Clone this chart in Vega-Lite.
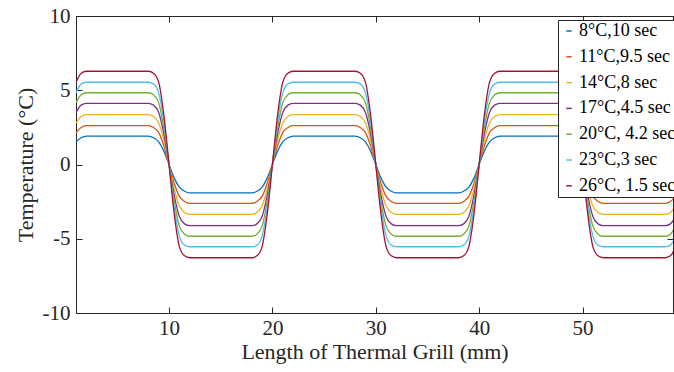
{
  "$schema": "https://vega.github.io/schema/vega-lite/v6.json",
  "width": 597,
  "height": 297,
  "autosize": {"type": "none"},
  "padding": {"left": 76, "top": 16, "right": 1, "bottom": 59},
  "background": "white",
  "data": {"values": [
{"x":1,"k":8,"y":1.53},{"x":1.5,"k":8,"y":1.80},{"x":2,"k":8,"y":1.91},{"x":8,"k":8,"y":1.91},{"x":8.5,"k":8,"y":1.80},{"x":9,"k":8,"y":1.53},{"x":9.5,"k":8,"y":0.90},{"x":10,"k":8,"y":0},{"x":10.5,"k":8,"y":-0.90},{"x":11,"k":8,"y":-1.53},{"x":11.5,"k":8,"y":-1.80},{"x":12,"k":8,"y":-1.91},
{"x":18,"k":8,"y":-1.91},{"x":18.5,"k":8,"y":-1.80},{"x":19,"k":8,"y":-1.53},{"x":19.5,"k":8,"y":-0.90},{"x":20,"k":8,"y":0},{"x":20.5,"k":8,"y":0.90},{"x":21,"k":8,"y":1.53},{"x":21.5,"k":8,"y":1.80},{"x":22,"k":8,"y":1.91},
{"x":28,"k":8,"y":1.91},{"x":28.5,"k":8,"y":1.80},{"x":29,"k":8,"y":1.53},{"x":29.5,"k":8,"y":0.90},{"x":30,"k":8,"y":0},{"x":30.5,"k":8,"y":-0.90},{"x":31,"k":8,"y":-1.53},{"x":31.5,"k":8,"y":-1.80},{"x":32,"k":8,"y":-1.91},
{"x":38,"k":8,"y":-1.91},{"x":38.5,"k":8,"y":-1.80},{"x":39,"k":8,"y":-1.53},{"x":39.5,"k":8,"y":-0.90},{"x":40,"k":8,"y":0},{"x":40.5,"k":8,"y":0.90},{"x":41,"k":8,"y":1.53},{"x":41.5,"k":8,"y":1.80},{"x":42,"k":8,"y":1.91},
{"x":48,"k":8,"y":1.91},{"x":48.5,"k":8,"y":1.80},{"x":49,"k":8,"y":1.53},{"x":49.5,"k":8,"y":0.90},{"x":50,"k":8,"y":0},{"x":50.5,"k":8,"y":-0.90},{"x":51,"k":8,"y":-1.53},{"x":51.5,"k":8,"y":-1.80},{"x":52,"k":8,"y":-1.91},
{"x":58,"k":8,"y":-1.91},{"x":58.5,"k":8,"y":-1.80},{"x":59,"k":8,"y":-1.53},

{"x":1,"k":11,"y":2.15},{"x":1.5,"k":11,"y":2.49},{"x":2,"k":11,"y":2.62},{"x":8,"k":11,"y":2.62},{"x":8.5,"k":11,"y":2.49},{"x":9,"k":11,"y":2.15},{"x":9.5,"k":11,"y":1.26},{"x":10,"k":11,"y":0},{"x":10.5,"k":11,"y":-1.26},{"x":11,"k":11,"y":-2.15},{"x":11.5,"k":11,"y":-2.49},{"x":12,"k":11,"y":-2.62},
{"x":18,"k":11,"y":-2.62},{"x":18.5,"k":11,"y":-2.49},{"x":19,"k":11,"y":-2.15},{"x":19.5,"k":11,"y":-1.26},{"x":20,"k":11,"y":0},{"x":20.5,"k":11,"y":1.26},{"x":21,"k":11,"y":2.15},{"x":21.5,"k":11,"y":2.49},{"x":22,"k":11,"y":2.62},
{"x":28,"k":11,"y":2.62},{"x":28.5,"k":11,"y":2.49},{"x":29,"k":11,"y":2.15},{"x":29.5,"k":11,"y":1.26},{"x":30,"k":11,"y":0},{"x":30.5,"k":11,"y":-1.26},{"x":31,"k":11,"y":-2.15},{"x":31.5,"k":11,"y":-2.49},{"x":32,"k":11,"y":-2.62},
{"x":38,"k":11,"y":-2.62},{"x":38.5,"k":11,"y":-2.49},{"x":39,"k":11,"y":-2.15},{"x":39.5,"k":11,"y":-1.26},{"x":40,"k":11,"y":0},{"x":40.5,"k":11,"y":1.26},{"x":41,"k":11,"y":2.15},{"x":41.5,"k":11,"y":2.49},{"x":42,"k":11,"y":2.62},
{"x":48,"k":11,"y":2.62},{"x":48.5,"k":11,"y":2.49},{"x":49,"k":11,"y":2.15},{"x":49.5,"k":11,"y":1.26},{"x":50,"k":11,"y":0},{"x":50.5,"k":11,"y":-1.26},{"x":51,"k":11,"y":-2.15},{"x":51.5,"k":11,"y":-2.49},{"x":52,"k":11,"y":-2.62},
{"x":58,"k":11,"y":-2.62},{"x":58.5,"k":11,"y":-2.49},{"x":59,"k":11,"y":-2.15},

{"x":1,"k":14,"y":2.79},{"x":1.5,"k":14,"y":3.23},{"x":2,"k":14,"y":3.36},{"x":8,"k":14,"y":3.36},{"x":8.5,"k":14,"y":3.23},{"x":9,"k":14,"y":2.79},{"x":9.5,"k":14,"y":1.65},{"x":10,"k":14,"y":0},{"x":10.5,"k":14,"y":-1.65},{"x":11,"k":14,"y":-2.79},{"x":11.5,"k":14,"y":-3.23},{"x":12,"k":14,"y":-3.36},
{"x":18,"k":14,"y":-3.36},{"x":18.5,"k":14,"y":-3.23},{"x":19,"k":14,"y":-2.79},{"x":19.5,"k":14,"y":-1.65},{"x":20,"k":14,"y":0},{"x":20.5,"k":14,"y":1.65},{"x":21,"k":14,"y":2.79},{"x":21.5,"k":14,"y":3.23},{"x":22,"k":14,"y":3.36},
{"x":28,"k":14,"y":3.36},{"x":28.5,"k":14,"y":3.23},{"x":29,"k":14,"y":2.79},{"x":29.5,"k":14,"y":1.65},{"x":30,"k":14,"y":0},{"x":30.5,"k":14,"y":-1.65},{"x":31,"k":14,"y":-2.79},{"x":31.5,"k":14,"y":-3.23},{"x":32,"k":14,"y":-3.36},
{"x":38,"k":14,"y":-3.36},{"x":38.5,"k":14,"y":-3.23},{"x":39,"k":14,"y":-2.79},{"x":39.5,"k":14,"y":-1.65},{"x":40,"k":14,"y":0},{"x":40.5,"k":14,"y":1.65},{"x":41,"k":14,"y":2.79},{"x":41.5,"k":14,"y":3.23},{"x":42,"k":14,"y":3.36},
{"x":48,"k":14,"y":3.36},{"x":48.5,"k":14,"y":3.23},{"x":49,"k":14,"y":2.79},{"x":49.5,"k":14,"y":1.65},{"x":50,"k":14,"y":0},{"x":50.5,"k":14,"y":-1.65},{"x":51,"k":14,"y":-2.79},{"x":51.5,"k":14,"y":-3.23},{"x":52,"k":14,"y":-3.36},
{"x":58,"k":14,"y":-3.36},{"x":58.5,"k":14,"y":-3.23},{"x":59,"k":14,"y":-2.79},

{"x":1,"k":17,"y":3.50},{"x":1.5,"k":17,"y":4.00},{"x":2,"k":17,"y":4.12},{"x":8,"k":17,"y":4.12},{"x":8.5,"k":17,"y":4.00},{"x":9,"k":17,"y":3.50},{"x":9.5,"k":17,"y":2.06},{"x":10,"k":17,"y":0},{"x":10.5,"k":17,"y":-2.06},{"x":11,"k":17,"y":-3.50},{"x":11.5,"k":17,"y":-4.00},{"x":12,"k":17,"y":-4.12},
{"x":18,"k":17,"y":-4.12},{"x":18.5,"k":17,"y":-4.00},{"x":19,"k":17,"y":-3.50},{"x":19.5,"k":17,"y":-2.06},{"x":20,"k":17,"y":0},{"x":20.5,"k":17,"y":2.06},{"x":21,"k":17,"y":3.50},{"x":21.5,"k":17,"y":4.00},{"x":22,"k":17,"y":4.12},
{"x":28,"k":17,"y":4.12},{"x":28.5,"k":17,"y":4.00},{"x":29,"k":17,"y":3.50},{"x":29.5,"k":17,"y":2.06},{"x":30,"k":17,"y":0},{"x":30.5,"k":17,"y":-2.06},{"x":31,"k":17,"y":-3.50},{"x":31.5,"k":17,"y":-4.00},{"x":32,"k":17,"y":-4.12},
{"x":38,"k":17,"y":-4.12},{"x":38.5,"k":17,"y":-4.00},{"x":39,"k":17,"y":-3.50},{"x":39.5,"k":17,"y":-2.06},{"x":40,"k":17,"y":0},{"x":40.5,"k":17,"y":2.06},{"x":41,"k":17,"y":3.50},{"x":41.5,"k":17,"y":4.00},{"x":42,"k":17,"y":4.12},
{"x":48,"k":17,"y":4.12},{"x":48.5,"k":17,"y":4.00},{"x":49,"k":17,"y":3.50},{"x":49.5,"k":17,"y":2.06},{"x":50,"k":17,"y":0},{"x":50.5,"k":17,"y":-2.06},{"x":51,"k":17,"y":-3.50},{"x":51.5,"k":17,"y":-4.00},{"x":52,"k":17,"y":-4.12},
{"x":58,"k":17,"y":-4.12},{"x":58.5,"k":17,"y":-4.00},{"x":59,"k":17,"y":-3.50},

{"x":1,"k":20,"y":4.15},{"x":1.5,"k":20,"y":4.69},{"x":2,"k":20,"y":4.83},{"x":8,"k":20,"y":4.83},{"x":8.5,"k":20,"y":4.69},{"x":9,"k":20,"y":4.15},{"x":9.5,"k":20,"y":2.46},{"x":10,"k":20,"y":0},{"x":10.5,"k":20,"y":-2.46},{"x":11,"k":20,"y":-4.15},{"x":11.5,"k":20,"y":-4.69},{"x":12,"k":20,"y":-4.83},
{"x":18,"k":20,"y":-4.83},{"x":18.5,"k":20,"y":-4.69},{"x":19,"k":20,"y":-4.15},{"x":19.5,"k":20,"y":-2.46},{"x":20,"k":20,"y":0},{"x":20.5,"k":20,"y":2.46},{"x":21,"k":20,"y":4.15},{"x":21.5,"k":20,"y":4.69},{"x":22,"k":20,"y":4.83},
{"x":28,"k":20,"y":4.83},{"x":28.5,"k":20,"y":4.69},{"x":29,"k":20,"y":4.15},{"x":29.5,"k":20,"y":2.46},{"x":30,"k":20,"y":0},{"x":30.5,"k":20,"y":-2.46},{"x":31,"k":20,"y":-4.15},{"x":31.5,"k":20,"y":-4.69},{"x":32,"k":20,"y":-4.83},
{"x":38,"k":20,"y":-4.83},{"x":38.5,"k":20,"y":-4.69},{"x":39,"k":20,"y":-4.15},{"x":39.5,"k":20,"y":-2.46},{"x":40,"k":20,"y":0},{"x":40.5,"k":20,"y":2.46},{"x":41,"k":20,"y":4.15},{"x":41.5,"k":20,"y":4.69},{"x":42,"k":20,"y":4.83},
{"x":48,"k":20,"y":4.83},{"x":48.5,"k":20,"y":4.69},{"x":49,"k":20,"y":4.15},{"x":49.5,"k":20,"y":2.46},{"x":50,"k":20,"y":0},{"x":50.5,"k":20,"y":-2.46},{"x":51,"k":20,"y":-4.15},{"x":51.5,"k":20,"y":-4.69},{"x":52,"k":20,"y":-4.83},
{"x":58,"k":20,"y":-4.83},{"x":58.5,"k":20,"y":-4.69},{"x":59,"k":20,"y":-4.15},

{"x":1,"k":23,"y":4.82},{"x":1.5,"k":23,"y":5.43},{"x":2,"k":23,"y":5.54},{"x":8,"k":23,"y":5.54},{"x":8.5,"k":23,"y":5.43},{"x":9,"k":23,"y":4.82},{"x":9.5,"k":23,"y":2.88},{"x":10,"k":23,"y":0},{"x":10.5,"k":23,"y":-2.88},{"x":11,"k":23,"y":-4.82},{"x":11.5,"k":23,"y":-5.43},{"x":12,"k":23,"y":-5.54},
{"x":18,"k":23,"y":-5.54},{"x":18.5,"k":23,"y":-5.43},{"x":19,"k":23,"y":-4.82},{"x":19.5,"k":23,"y":-2.88},{"x":20,"k":23,"y":0},{"x":20.5,"k":23,"y":2.88},{"x":21,"k":23,"y":4.82},{"x":21.5,"k":23,"y":5.43},{"x":22,"k":23,"y":5.54},
{"x":28,"k":23,"y":5.54},{"x":28.5,"k":23,"y":5.43},{"x":29,"k":23,"y":4.82},{"x":29.5,"k":23,"y":2.88},{"x":30,"k":23,"y":0},{"x":30.5,"k":23,"y":-2.88},{"x":31,"k":23,"y":-4.82},{"x":31.5,"k":23,"y":-5.43},{"x":32,"k":23,"y":-5.54},
{"x":38,"k":23,"y":-5.54},{"x":38.5,"k":23,"y":-5.43},{"x":39,"k":23,"y":-4.82},{"x":39.5,"k":23,"y":-2.88},{"x":40,"k":23,"y":0},{"x":40.5,"k":23,"y":2.88},{"x":41,"k":23,"y":4.82},{"x":41.5,"k":23,"y":5.43},{"x":42,"k":23,"y":5.54},
{"x":48,"k":23,"y":5.54},{"x":48.5,"k":23,"y":5.43},{"x":49,"k":23,"y":4.82},{"x":49.5,"k":23,"y":2.88},{"x":50,"k":23,"y":0},{"x":50.5,"k":23,"y":-2.88},{"x":51,"k":23,"y":-4.82},{"x":51.5,"k":23,"y":-5.43},{"x":52,"k":23,"y":-5.54},
{"x":58,"k":23,"y":-5.54},{"x":58.5,"k":23,"y":-5.43},{"x":59,"k":23,"y":-4.82},

{"x":1,"k":26,"y":5.53},{"x":1.5,"k":26,"y":6.15},{"x":2,"k":26,"y":6.28},{"x":8,"k":26,"y":6.28},{"x":8.5,"k":26,"y":6.15},{"x":9,"k":26,"y":5.53},{"x":9.5,"k":26,"y":3.33},{"x":10,"k":26,"y":0},{"x":10.5,"k":26,"y":-3.33},{"x":11,"k":26,"y":-5.53},{"x":11.5,"k":26,"y":-6.15},{"x":12,"k":26,"y":-6.28},
{"x":18,"k":26,"y":-6.28},{"x":18.5,"k":26,"y":-6.15},{"x":19,"k":26,"y":-5.53},{"x":19.5,"k":26,"y":-3.33},{"x":20,"k":26,"y":0},{"x":20.5,"k":26,"y":3.33},{"x":21,"k":26,"y":5.53},{"x":21.5,"k":26,"y":6.15},{"x":22,"k":26,"y":6.28},
{"x":28,"k":26,"y":6.28},{"x":28.5,"k":26,"y":6.15},{"x":29,"k":26,"y":5.53},{"x":29.5,"k":26,"y":3.33},{"x":30,"k":26,"y":0},{"x":30.5,"k":26,"y":-3.33},{"x":31,"k":26,"y":-5.53},{"x":31.5,"k":26,"y":-6.15},{"x":32,"k":26,"y":-6.28},
{"x":38,"k":26,"y":-6.28},{"x":38.5,"k":26,"y":-6.15},{"x":39,"k":26,"y":-5.53},{"x":39.5,"k":26,"y":-3.33},{"x":40,"k":26,"y":0},{"x":40.5,"k":26,"y":3.33},{"x":41,"k":26,"y":5.53},{"x":41.5,"k":26,"y":6.15},{"x":42,"k":26,"y":6.28},
{"x":48,"k":26,"y":6.28},{"x":48.5,"k":26,"y":6.15},{"x":49,"k":26,"y":5.53},{"x":49.5,"k":26,"y":3.33},{"x":50,"k":26,"y":0},{"x":50.5,"k":26,"y":-3.33},{"x":51,"k":26,"y":-5.53},{"x":51.5,"k":26,"y":-6.15},{"x":52,"k":26,"y":-6.28},
{"x":58,"k":26,"y":-6.28},{"x":58.5,"k":26,"y":-6.15},{"x":59,"k":26,"y":-5.53}
  ]},
  "layer": [
    {
      "mark": {"type": "line", "strokeWidth": 1.3, "clip": true, "interpolate": "monotone"},
      "encoding": {
        "x": {"field": "x", "type": "quantitative", "scale": {"domain": [1, 58.75], "nice": false, "zero": false},
              "axis": {"values": [10, 20, 30, 40, 50], "title": "Length of Thermal Grill (mm)", "orient": "bottom", "labelPadding": 10, "titlePadding": 3}},
        "y": {"field": "y", "type": "quantitative", "scale": {"domain": [-10, 10], "nice": false},
              "axis": {"values": [-10, -5, 0, 5, 10], "title": "Temperature (°C)", "orient": "left", "labelPadding": 12, "titlePadding": 5, "labelExpr": "'' + datum.value"}},
        "color": {"field": "k", "type": "nominal",
          "scale": {"domain": [8, 11, 14, 17, 20, 23, 26], "range": ["#0072BD", "#D95319", "#EDB120", "#7E2F8E", "#77AC30", "#4DBEEE", "#A2142F"]},
          "legend": {"title": null, "orient": "none", "legendX": 482, "legendY": 4,
            "labelExpr": "datum.label == '8' ? '8°C,10 sec' : datum.label == '11' ? '11°C,9.5 sec' : datum.label == '14' ? '14°C,8 sec' : datum.label == '17' ? '17°C,4.5 sec' : datum.label == '20' ? '20°C, 4.2 sec' : datum.label == '23' ? '23°C,3 sec' : '26°C, 1.5 sec'"}}
      }
    },
    {
      "mark": {"type": "point", "opacity": 0},
      "encoding": {
        "x": {"field": "x", "type": "quantitative", "axis": {"orient": "top", "values": [10, 20, 30, 40, 50], "labels": false, "title": null, "domain": false}},
        "y": {"field": "y", "type": "quantitative", "axis": {"orient": "right", "values": [-10, -5, 0, 5, 10], "labels": false, "title": null, "domain": false}}
      }
    }
  ],
  "resolve": {"axis": {"x": "independent", "y": "independent"}},
  "config": {
    "font": "Liberation Serif",
    "view": {"stroke": "#262626", "strokeWidth": 1},
    "axis": {"grid": false, "domainColor": "#262626", "tickColor": "#262626", "labelColor": "#262626", "titleColor": "#262626",
             "labelFont": "Liberation Serif", "titleFont": "Liberation Serif", "labelFontSize": 21, "titleFontSize": 22,
             "titleFontWeight": "normal", "tickSize": -6, "domainWidth": 1},
    "legend": {"strokeColor": "#262626", "fillColor": "white", "padding": 2, "labelFont": "Liberation Serif", "labelFontSize": 18,
               "labelColor": "#000", "symbolType": "stroke", "symbolSize": 30, "symbolStrokeWidth": 1.5, "rowPadding": 7.8, "labelOffset": 1}
  }
}
